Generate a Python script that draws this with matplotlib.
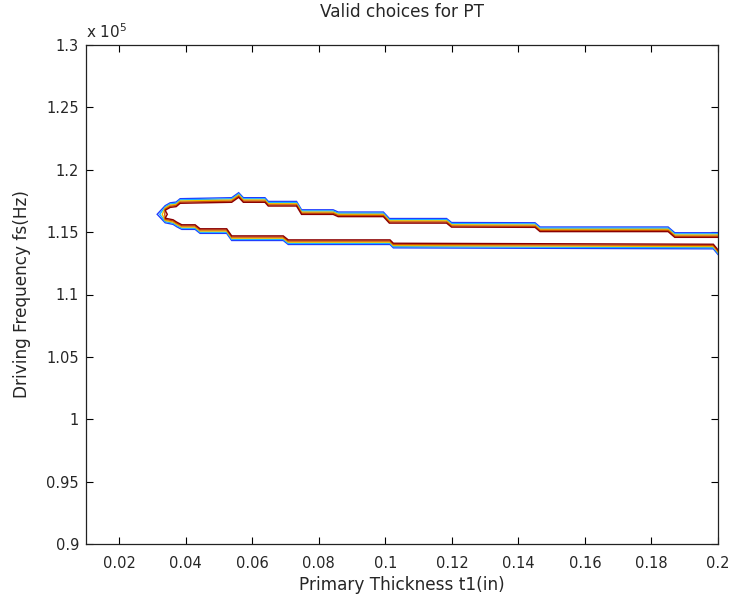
import numpy as np
import matplotlib
matplotlib.use("Agg")
import matplotlib.pyplot as plt
from matplotlib.ticker import FixedLocator, FixedFormatter

# ---- data (frequency in units of 1e5 Hz) ----
tip_x = 0.0314
tip_y = 1.1643

upper_x = [0.0314, 0.0338, 0.0353, 0.0371, 0.0383, 0.0538, 0.0559, 0.0573, 0.0638,
           0.0648, 0.0733, 0.0748, 0.0843, 0.0858, 0.0994, 0.1012, 0.1184, 0.1199,
           0.1450, 0.1465, 0.1850, 0.1870, 0.2000]
upper_y = [1.1643, 1.1712, 1.1735, 1.1741, 1.1768, 1.1776, 1.1816, 1.1776, 1.1776,
           1.1746, 1.1746, 1.1679, 1.1679, 1.1661, 1.1661, 1.1609, 1.1609, 1.1577,
           1.1575, 1.1541, 1.1541, 1.1495, 1.1495]

lower_x = [0.0314, 0.0338, 0.0362, 0.0373, 0.0388, 0.0428, 0.0443, 0.0523, 0.0538,
           0.0693, 0.0708, 0.1014, 0.1024, 0.1986, 0.2000]
lower_y = [1.1643, 1.1575, 1.1562, 1.1543, 1.1522, 1.1522, 1.1490, 1.1490, 1.1433,
           1.1433, 1.1401, 1.1401, 1.1374, 1.1366, 1.1321]

level_colors = ['#1f3cff', '#1ab0ff', '#e8c000', '#d05000', '#8c0000']

x_ticks = [0.02, 0.04, 0.06, 0.08, 0.1, 0.12, 0.14, 0.16, 0.18, 0.2]
x_tick_labels = ['0.02', '0.04', '0.06', '0.08', '0.1', '0.12', '0.14', '0.16', '0.18', '0.2']
y_ticks = [0.9, 0.95, 1.0, 1.05, 1.1, 1.15, 1.2, 1.25, 1.3]
y_tick_labels = ['0.9', '0.95', '1', '1.05', '1.1', '1.15', '1.2', '1.25', '1.3']

# ---- figure ----
W, H, DPI = 731, 598, 100
fig = plt.figure(figsize=(W / DPI, H / DPI), dpi=DPI)
L, R, T, B = 86, 718, 45, 544
ax = fig.add_axes([L / W, (H - B) / H, (R - L) / W, (B - T) / H])
xmin, xmax, ymin, ymax = 0.01, 0.2, 0.9, 1.3
ax.set_xlim(xmin, xmax)
ax.set_ylim(ymin, ymax)

# pixel spacing between nested contour levels -> data units
px = 1.15
dx = px * (xmax - xmin) / (R - L)
dy = px * (ymax - ymin) / (B - T)

ux = np.array(upper_x); uy = np.array(upper_y)
lx = np.array(lower_x); ly = np.array(lower_y)
for k, c in enumerate(level_colors):
    uyk = uy - k * dy
    lyk = ly + k * dy
    uxk = ux.copy(); lxk = lx.copy()
    uxk[0] = tip_x + 2.2 * k * dx
    lxk[0] = tip_x + 2.2 * k * dx
    uyk[0] = tip_y
    lyk[0] = tip_y
    xs = np.concatenate([uxk[::-1], lxk[1:]])
    ys = np.concatenate([uyk[::-1], lyk[1:]])
    ax.plot(xs, ys, color=c, lw=1.0, solid_joinstyle='miter', clip_on=True)

fs = 10.5
lfs = 12.2
tc = '#262626'
ax.xaxis.set_major_locator(FixedLocator(x_ticks))
ax.xaxis.set_major_formatter(FixedFormatter(x_tick_labels))
ax.yaxis.set_major_locator(FixedLocator(y_ticks))
ax.yaxis.set_major_formatter(FixedFormatter(y_tick_labels))
ax.tick_params(direction='in', length=5, width=0.8, top=True, right=True,
               labelsize=fs, colors='#000000', labelcolor=tc)
ax.tick_params(axis='x', pad=9)
ax.tick_params(axis='y', pad=5)
for s in ax.spines.values():
    s.set_linewidth(0.9)
    s.set_color('#222222')

ax.set_title('Valid choices for PT', fontsize=lfs, color=tc, pad=20)
ax.set_xlabel('Primary Thickness t1(in)', fontsize=lfs, color=tc, labelpad=3)
ax.set_ylabel('Driving Frequency fs(Hz)', fontsize=lfs, color=tc, labelpad=11)
ax.text(0.0, 1.008, r'x 10$^{5}$', transform=ax.transAxes, fontsize=11,
        color=tc, ha='left', va='bottom')

fig.savefig('out.png', dpi=DPI, facecolor='white')
